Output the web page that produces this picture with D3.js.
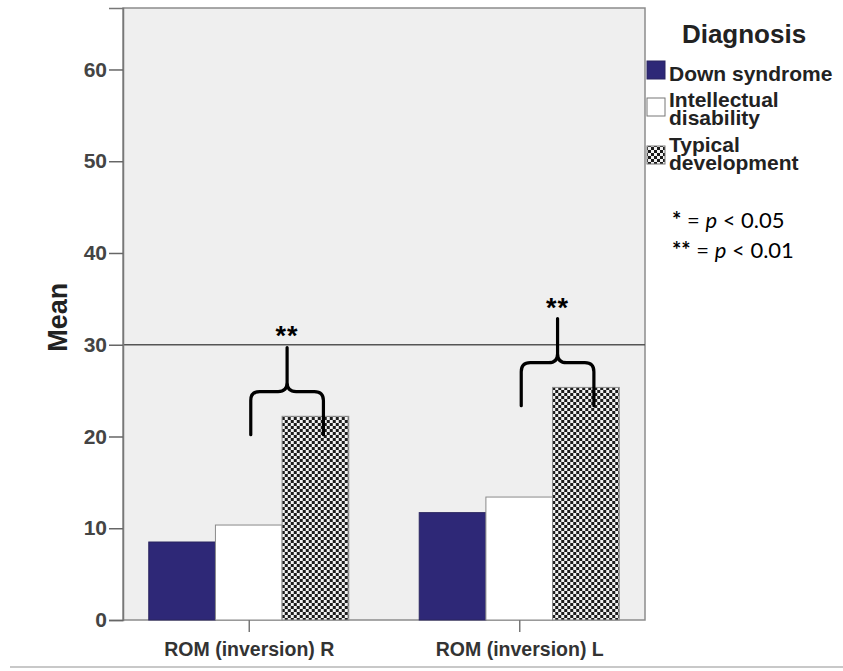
<!DOCTYPE html>
<html>
<head>
<meta charset="utf-8">
<script src="https://cdn.jsdelivr.net/npm/d3@7"></script>
<style>
  body { margin: 0; background: #fff; }
  svg { display: block; font-family: "Liberation Sans", Arial, sans-serif; }
</style>
</head>
<body>
<svg id="chart" width="843" height="671"></svg>
<script>
// values
const categories = ['ROM (inversion) R', 'ROM (inversion) L'];
const groups = ['Down syndrome', 'Intellectual disability', 'Typical development'];
const legendLines = [['Down syndrome'], ['Intellectual', 'disability'], ['Typical', 'development']];
const downSyndrome = [8.5, 11.7];
const intellectualDisability = [10.35, 13.4];
const typicalDevelopment = [22.2, 25.35];
const yTicks = [0, 10, 20, 30, 40, 50, 60];
const referenceLine = 30;
const significance = ['**', '**'];
const sigNotes = [['*', 'p', '< 0.05'], ['**', 'p', '< 0.01']];

const series = [downSyndrome, intellectualDisability, typicalDevelopment];
const colors = ['#2e2877', '#ffffff', 'url(#checker)'];

const margin = {top: 8, right: 198, left: 123};
const width = 843, height = 671;
const plotBottom = 620;

const svg = d3.select('#chart');

// checker pattern for typical development
const defs = svg.append('defs');
const pat = defs.append('pattern')
    .attr('id', 'checker')
    .attr('patternUnits', 'userSpaceOnUse')
    .attr('width', 6).attr('height', 6);
pat.append('rect').attr('width', 6).attr('height', 6).attr('fill', '#f2f2f2');
pat.append('rect').attr('width', 3).attr('height', 3).attr('fill', '#1c1c1c');
pat.append('rect').attr('x', 3).attr('y', 3).attr('width', 3).attr('height', 3).attr('fill', '#1c1c1c');

const yScale = d3.scaleLinear()
    .domain([0, 66.7])
    .range([plotBottom, margin.top]);

const x0 = d3.scalePoint()
    .domain(categories)
    .range([margin.left, width - margin.right])
    .padding(0.465);

const x1 = d3.scaleBand()
    .domain(groups)
    .range([-100, 100]);

// plot background
svg.append('rect')
    .attr('x', margin.left)
    .attr('y', margin.top)
    .attr('width', width - margin.right - margin.left)
    .attr('height', yScale(0) - margin.top)
    .attr('fill', '#efefef')
    .attr('stroke', '#8c8c8c')
    .attr('stroke-width', 1.5);

// bars
const rows = categories.map((c, i) => groups.map((g, j) => ({cat: c, group: g, value: series[j][i], idx: j})));

svg.append('g').selectAll('g')
    .data(rows)
    .join('g')
    .attr('transform', d => `translate(${x0(d[0].cat)},0)`)
    .selectAll('rect')
    .data(d => d)
    .join('rect')
    .attr('x', d => x1(d.group))
    .attr('y', d => yScale(d.value))
    .attr('width', x1.bandwidth())
    .attr('height', d => yScale(0) - yScale(d.value))
    .attr('fill', d => colors[d.idx])
    .attr('stroke', d => d.idx === 0 ? '#2a2560' : '#8a8a8a')
    .attr('stroke-width', 1);

// reference line at 30
svg.append('line')
    .attr('x1', margin.left).attr('x2', width - margin.right)
    .attr('y1', yScale(referenceLine)).attr('y2', yScale(referenceLine))
    .attr('stroke', '#555').attr('stroke-width', 1.5);

// y axis
const yAxis = svg.append('g')
    .attr('transform', `translate(${margin.left},0)`)
    .call(d3.axisLeft(yScale).tickValues(yTicks).tickSize(14).tickPadding(2).tickFormat(d3.format('d')));
yAxis.select('.domain').attr('stroke', '#777').attr('stroke-width', 1.5);
yAxis.selectAll('.tick line').attr('stroke', '#666').attr('stroke-width', 1.5);
yAxis.selectAll('.tick text')
    .attr('fill', '#444')
    .attr('font-size', 21)
    .attr('font-weight', 'bold')
    .attr('font-family', '"Liberation Sans", Arial, sans-serif');

// x axis
const xAxis = svg.append('g')
    .attr('transform', `translate(0,${yScale(0)})`)
    .call(d3.axisBottom(x0).tickSize(12).tickPadding(10));
xAxis.select('.domain').remove();
xAxis.selectAll('.tick line').attr('stroke', '#777').attr('stroke-width', 1.5);
xAxis.selectAll('.tick text')
    .attr('fill', '#333')
    .attr('font-size', 19.5)
    .attr('font-weight', 'bold')
    .attr('font-family', '"Liberation Sans", Arial, sans-serif');

// y title
svg.append('text')
    .attr('transform', `translate(67,${yScale(33)}) rotate(-90)`)
    .attr('text-anchor', 'middle')
    .attr('font-size', 27)
    .attr('font-weight', 'bold')
    .attr('fill', '#222')
    .text('Mean');

// significance braces
const braces = svg.append('g');
categories.forEach((c, i) => {
    const base = typicalDevelopment[i] - 2;
    const yLow = yScale(base), yMid = yScale(base + 4.7), yTop = yScale(base + 9.5);
    const xl = x0(c) + x1(groups[1]) + x1.bandwidth() / 2 + 2;
    const xr = x0(c) + x1(groups[2]) + x1.bandwidth() / 2 + 8;
    const xc = (xl + xr) / 2;
    const r = 9;
    const p = d3.path();
    p.moveTo(xl, yLow);
    p.lineTo(xl, yMid + r);
    p.quadraticCurveTo(xl, yMid, xl + r, yMid);
    p.lineTo(xc - r, yMid);
    p.quadraticCurveTo(xc, yMid, xc, yMid - r);
    p.lineTo(xc, yTop);
    p.moveTo(xc, yMid - r);
    p.quadraticCurveTo(xc, yMid, xc + r, yMid);
    p.lineTo(xr - r, yMid);
    p.quadraticCurveTo(xr, yMid, xr, yMid + r);
    p.lineTo(xr, yLow);
    braces.append('path')
        .attr('d', p.toString())
        .attr('fill', 'none')
        .attr('stroke', '#000')
        .attr('stroke-width', 3.2)
        .attr('stroke-linecap', 'round')
        .attr('stroke-linejoin', 'round');
    braces.append('text')
        .attr('x', xc)
        .attr('y', yTop - 2)
        .attr('text-anchor', 'middle')
        .attr('font-size', 27)
        .attr('font-weight', 'bold')
        .attr('letter-spacing', 1)
        .attr('fill', '#000')
        .text(significance[i]);
});

// legend
const legend = svg.append('g');
legend.append('text')
    .attr('x', 744).attr('y', 43)
    .attr('text-anchor', 'middle')
    .attr('font-size', 26)
    .attr('font-weight', 'bold')
    .attr('fill', '#222')
    .text('Diagnosis');

const swatchY = [61, 98, 146];
const textY = [81, 107, 152];
groups.forEach((g, i) => {
    legend.append('rect')
        .attr('x', 647).attr('y', swatchY[i])
        .attr('width', 18).attr('height', 18)
        .attr('fill', colors[i])
        .attr('stroke', i === 0 ? '#2a2560' : '#777')
        .attr('stroke-width', 1);
    const t = legend.append('text')
        .attr('x', 669).attr('y', textY[i])
        .attr('font-size', 21)
        .attr('font-weight', 'bold')
        .attr('fill', '#222');
    legendLines[i].forEach((line, k) => {
        t.append('tspan')
            .attr('x', 669)
            .attr('dy', k === 0 ? 0 : 18)
            .text(line);
    });
});

sigNotes.forEach((n, i) => {
    const t = legend.append('text')
        .attr('x', 672).attr('y', 228 + i * 30)
        .attr('font-size', 22)
        .attr('font-family', 'Lato, "Open Sans", sans-serif')
        .attr('fill', '#000');
    t.append('tspan').attr('font-weight', 'bold').text(n[0]);
    t.append('tspan').text(' = ');
    t.append('tspan').attr('font-style', 'italic').text(n[1]);
    t.append('tspan').text(' ' + n[2]);
});

// thin separator at the bottom
svg.append('line')
    .attr('x1', 10).attr('x2', width)
    .attr('y1', 667).attr('y2', 667)
    .attr('stroke', '#c8c8c8').attr('stroke-width', 2);
</script>
</body>
</html>
